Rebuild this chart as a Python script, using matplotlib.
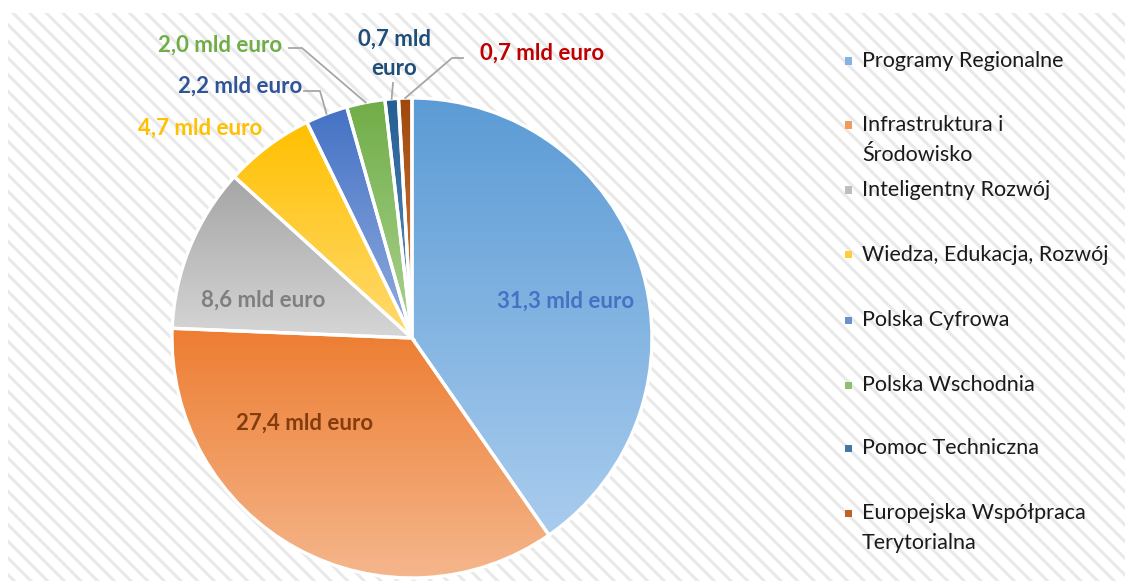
import numpy as np
import matplotlib
matplotlib.use("Agg")
import matplotlib.pyplot as plt
from matplotlib.patches import Rectangle
from matplotlib.colors import to_rgb

# data
names = ["Programy Regionalne", "Infrastruktura i\nŚrodowisko", "Inteligentny Rozwój",
         "Wiedza, Edukacja, Rozwój", "Polska Cyfrowa", "Polska Wschodnia",
         "Pomoc Techniczna", "Europejska Współpraca\nTerytorialna"]
values = [31.3, 27.4, 8.6, 4.7, 2.2, 2.0, 0.7, 0.7]
labels = ["31,3 mld euro", "27,4 mld euro", "8,6 mld euro", "4,7 mld euro",
          "2,2 mld euro", "2,0 mld euro", "0,7 mld\neuro", "0,7 mld euro"]

top_colors = ["#5B9BD5", "#ED7D31", "#A5A5A5", "#FFC000", "#4472C4", "#70AD47", "#255E91", "#9E480E"]
bot_colors = ["#A9CCEE", "#F5B68C", "#D6D6D6", "#FFDA70", "#93ADE0", "#ACD392", "#5F90C4", "#D9803F"]
label_colors = ["#4472C4", "#843C0C", "#7F7F7F", "#FFC000", "#2F5597", "#70AD47", "#1F4E79", "#C00000"]

W, H = 1129, 581
cx, cy, R = 412, 338, 240

def px(x, y):
    return (x - cx) / R, (cy - y) / R

plt.rcParams['hatch.linewidth'] = 2.2
fig = plt.figure(figsize=(W / 100, H / 100), dpi=100)
fig.patch.set_facecolor("white")
fig.patches.append(Rectangle((8 / W, 0), (1125 - 8) / W, (H - 13) / H, transform=fig.transFigure,
                             facecolor="white", edgecolor="#E9E9E9", hatch="\\\\", lw=0, zorder=-1))

ax = fig.add_axes([(cx - R) / W, (H - cy - R) / H, 2 * R / W, 2 * R / H])
ax.set_facecolor("none")

wedges, _ = ax.pie(values, colors=top_colors, startangle=90, counterclock=False, radius=1,
                   wedgeprops=dict(edgecolor="white", linewidth=2.4))

# vertical gradient fill inside every slice
for w, c1, c2 in zip(wedges, top_colors, bot_colors):
    ext = w.get_path().get_extents()
    t = np.linspace(0, 1, 200)[:, None]
    grad = (1 - t) * np.array(to_rgb(c1)) + t * np.array(to_rgb(c2))
    im = ax.imshow(grad[:, None, :].repeat(2, axis=1), extent=[ext.x0, ext.x1, ext.y0, ext.y1],
                   origin="upper", aspect="auto", zorder=1, interpolation="bilinear")
    im.set_clip_path(w)
    w.set_facecolor("none")
    w.set_zorder(2)

ax.set_aspect("equal")
ax.set_xlim(-1, 1)
ax.set_ylim(-1, 1)
ax.axis("off")

# data labels (positions in pixel layout)
label_pos = [(566, 301), (305, 423), (263, 300), (200, 128), (240, 86), (220, 45), (394, 54), (542, 53)]
lfont = dict(family="Lato", fontsize=16, fontweight="bold")
for lab, pos, col in zip(labels, label_pos, label_colors):
    ax.text(*px(*pos), lab, color=col, ha="center", va="center", linespacing=1.45,
            clip_on=False, zorder=5, **lfont)

# leader lines for small slices
def edge(w):
    a = np.deg2rad((w.theta1 + w.theta2) / 2)
    return np.cos(a), np.sin(a)

leaders = {4: [(320, 91), (304, 91)], 5: [(302, 48), (289, 48)], 6: [(393, 83)], 7: [(452, 58), (463, 58)]}
for i, pts in leaders.items():
    ex, ey = edge(wedges[i])
    xs = [ex] + [px(*p)[0] for p in pts]
    ys = [ey] + [px(*p)[1] for p in pts]
    ax.plot(xs, ys, color="#A6A6A6", lw=1.3, clip_on=False, zorder=4)

# legend
leg_y = [61, 125, 190, 255, 320, 385, 448, 513]
for name, y, c1, c2 in zip(names, leg_y, top_colors, bot_colors):
    mid = tuple((np.array(to_rgb(c1)) + np.array(to_rgb(c2))) / 2)
    fig.patches.append(Rectangle((845 / W, 1 - (y + 3.5) / H), 7 / W, 7 / H,
                                 transform=fig.transFigure, facecolor=mid, lw=0, zorder=3))
    for j, line in enumerate(name.split("\n")):
        fig.text(862 / W, 1 - (y + j * 30) / H, line, ha="left", va="center",
                 family="Lato", fontsize=15.5, color="#1A1A1A")

fig.savefig("out.png", dpi=100)
